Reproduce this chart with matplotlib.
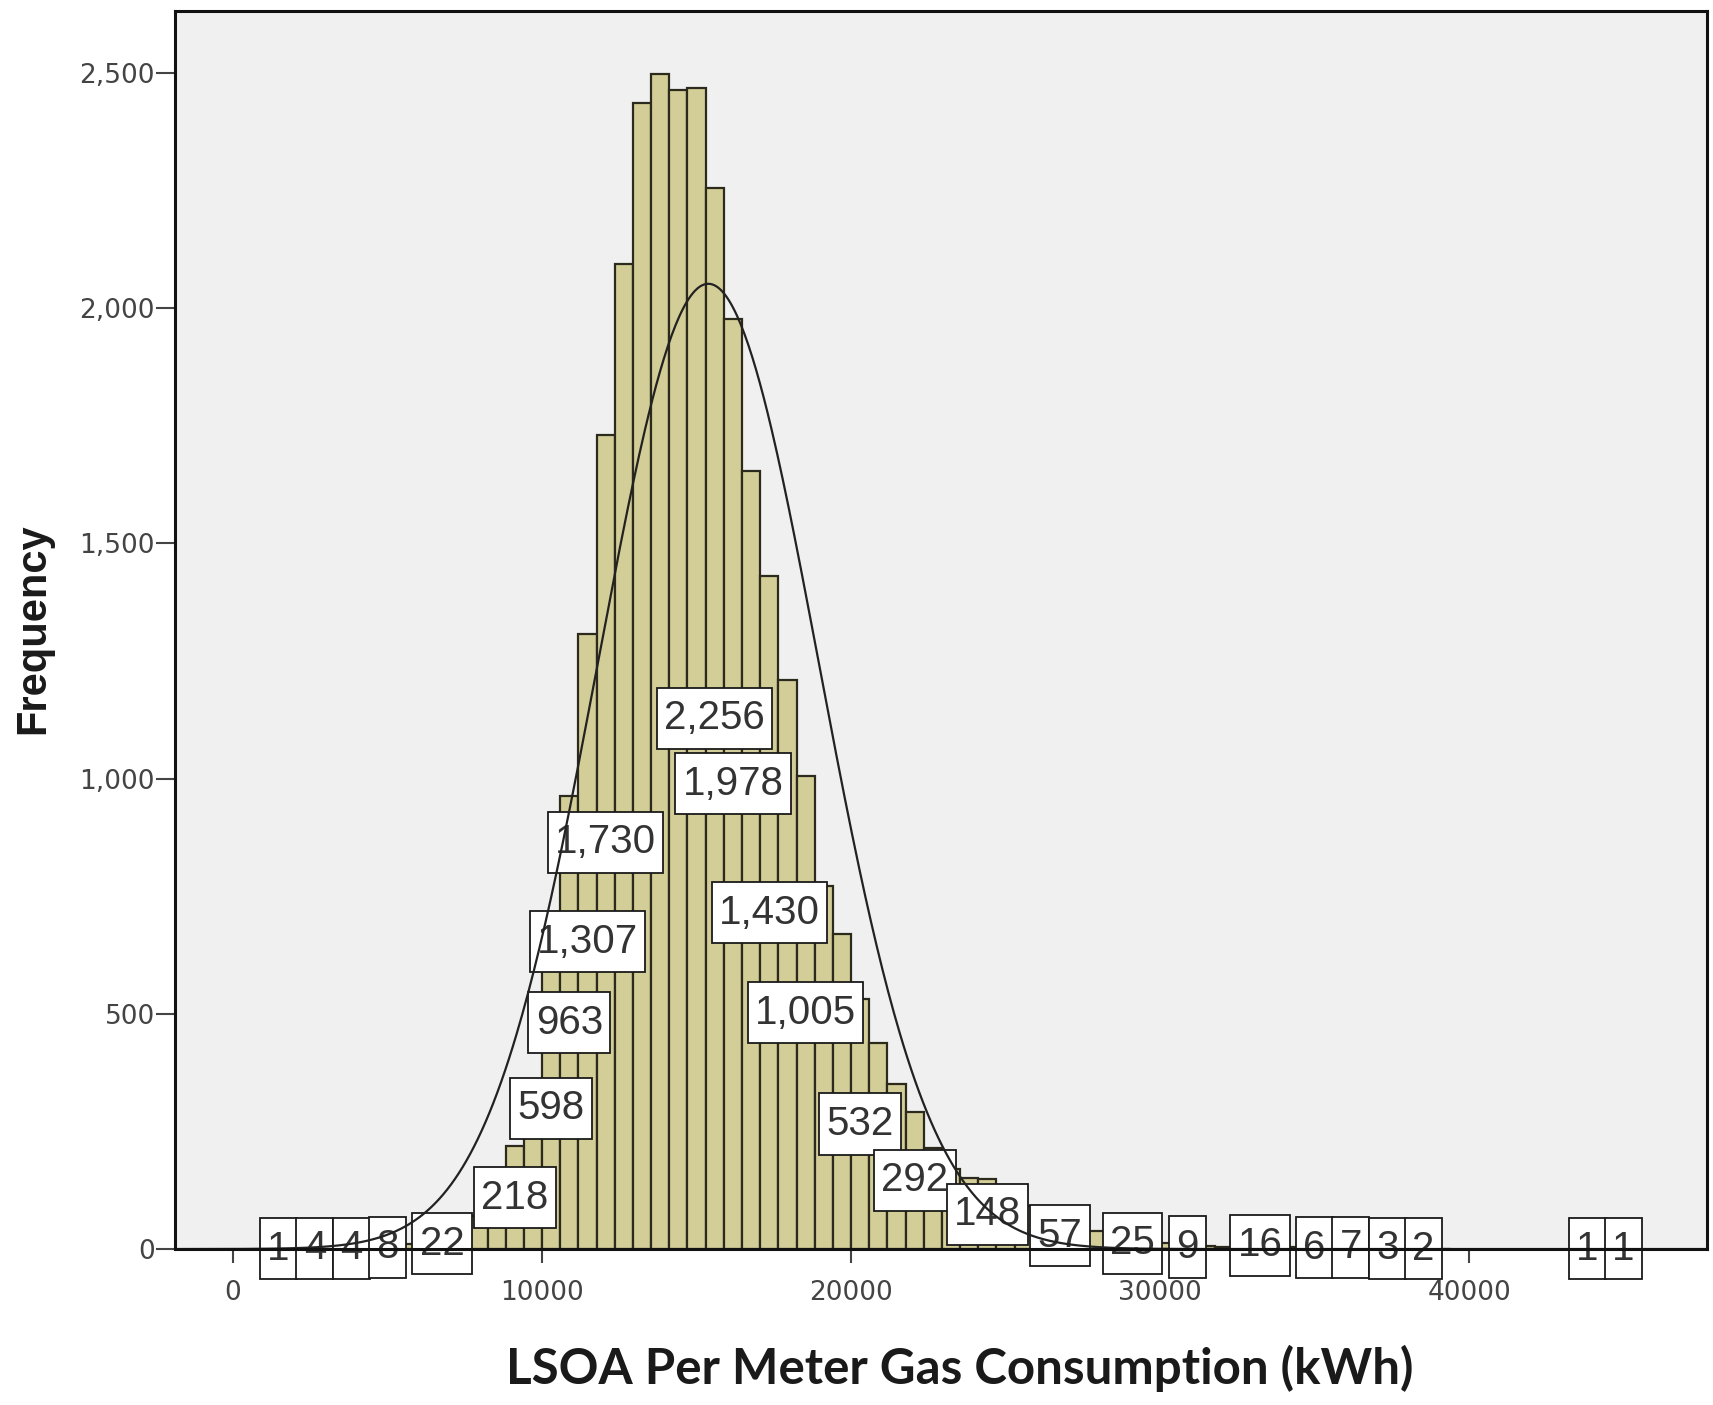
"""Histogram of LSOA per-meter domestic gas consumption with fitted normal curve."""
import matplotlib
matplotlib.use('Agg')
import matplotlib.pyplot as plt
from matplotlib import font_manager
import numpy as np

# bin layout: 17 bins per 10,000 kWh, first bin starts 15 bins below 10,000
bin_width = 10000 / 17
first_edge = 10000 - 15 * bin_width

# frequencies per bin, left to right
counts = [
    1, 2, 4, 3, 4, 5, 8, 10, 15, 22,
    40, 70, 125, 218, 350, 598, 963, 1307, 1730, 2094,
    2437, 2497, 2464, 2468, 2256, 1978, 1655, 1430, 1210, 1005,
    772, 670, 532, 438, 351, 292, 215, 170, 152, 148,
    118, 92, 72, 57, 45, 38, 30, 25, 16, 12,
    9, 6, 5, 9, 16, 10, 5, 6, 4, 7,
    3, 3, 2, 2, 1, 0, 0, 0, 0, 0,
    0, 0, 1, 0, 1,
]

# bins whose value label survives the label-collision pass
labelled_bins = [0, 2, 4, 6, 9, 13, 15, 16, 17, 18, 24, 25, 27, 29, 32, 35,
                 39, 43, 47, 50, 54, 57, 59, 61, 63, 72, 74]

# normal curve parameters (kWh)
curve_mean = 15380
curve_sd = 3580

x_ticks = [0, 10000, 20000, 30000, 40000]
y_ticks = [0, 500, 1000, 1500, 2000, 2500]


def pick_family(preferred, fallback):
    names = {f.name for f in font_manager.fontManager.ttflist}
    return preferred if preferred in names else fallback


def main():
    narrow = pick_family('Liberation Sans Narrow', None)
    label_family = narrow or 'Liberation Sans'
    label_size = 34 if narrow else 29

    counts_arr = np.array(counts, dtype=float)
    edges = first_edge + bin_width * np.arange(len(counts))
    centres = edges + bin_width / 2
    shown = counts_arr > 0

    fig = plt.figure(figsize=(17.13, 14.05), dpi=100)
    ax = fig.add_axes([0.1022, 0.1110, 0.8943, 0.8812])
    ax.set_facecolor('#F0F0F0')

    ax.bar(edges[shown], counts_arr[shown], width=bin_width, align='edge',
           color='#D3CE97', edgecolor='#2b2a1c', linewidth=1.6, zorder=1)

    # value labels sit at the middle of their bar
    for i in labelled_bins:
        v = counts[i]
        ax.text(centres[i], v / 2, f'{v:,}', ha='center', va='center',
                fontsize=label_size, family=label_family, color='#333333',
                bbox=dict(boxstyle='square,pad=0.18', fc='white', ec='#1a1a1a',
                          lw=1.3, mutation_aspect=1.6),
                zorder=2, clip_on=False)

    # fitted normal, scaled to counts per bin
    n_total = counts_arr.sum()
    xs = np.linspace(-1877, 47700, 800)
    ys = n_total * bin_width * np.exp(-0.5 * ((xs - curve_mean) / curve_sd) ** 2) \
        / (curve_sd * np.sqrt(2 * np.pi))
    ax.plot(xs, ys, color='#222222', linewidth=1.6, zorder=2.3)

    ax.set_xlim(-1877, 47700)
    ax.set_ylim(0, 2632)

    ax.set_xticks(x_ticks)
    ax.set_xticklabels([str(t) for t in x_ticks], family='DejaVu Sans')
    ax.set_yticks(y_ticks)
    ax.set_yticklabels([f'{t:,}' for t in y_ticks], family='DejaVu Sans')
    ax.tick_params(axis='x', length=10, width=1.5, color='#444444',
                   labelsize=19, labelcolor='#444444', pad=12)
    ax.tick_params(axis='y', length=14, width=1.5, color='#444444',
                   labelsize=19, labelcolor='#444444', pad=0.5)

    for s in ax.spines.values():
        s.set_linewidth(2.2)
        s.set_color('#111111')

    ax.set_xlabel('LSOA Per Meter Gas Consumption (kWh)', fontsize=35.5,
                  fontweight='bold', family='Lato', color='#1a1a1a')
    ax.xaxis.label.set_va('center')
    ax.xaxis.set_label_coords(0.5124, -0.0961)

    ax.set_ylabel('Frequency', fontsize=34 if narrow else 30,
                  fontweight='bold', family=label_family, color='#1a1a1a')
    ax.yaxis.label.set_va('center')
    ax.yaxis.set_label_coords(-0.0927, 0.5008)

    fig.savefig('out.png', dpi=100, facecolor='white')


if __name__ == '__main__':
    main()
